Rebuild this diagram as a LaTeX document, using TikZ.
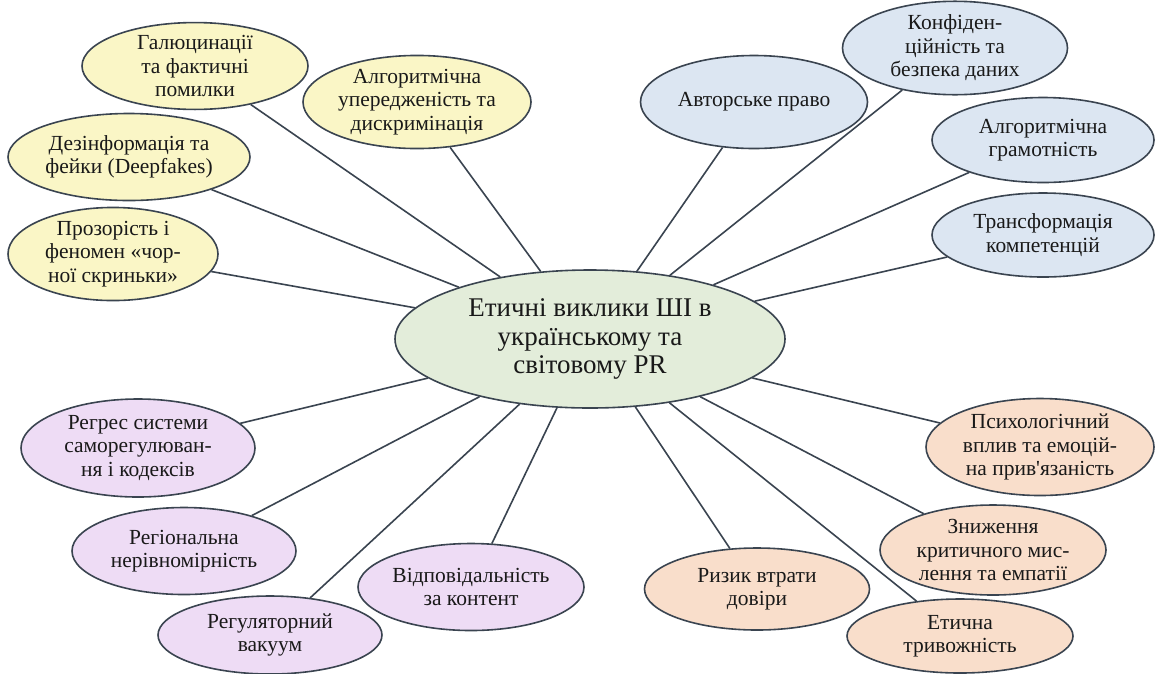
\documentclass[tikz,border=0pt]{standalone}
\usepackage{fontspec}
\setmainfont{Liberation Serif}[Ligatures=TeXOff]
\usetikzlibrary{shapes.geometric}
\definecolor{edgecol}{HTML}{3A4450}
\definecolor{yel}{HTML}{FAF6C6}
\definecolor{blu}{HTML}{DCE6F2}
\definecolor{grn}{HTML}{E3EDDA}
\definecolor{pur}{HTML}{EEDCF5}
\definecolor{ora}{HTML}{F9DECB}
\tikzset{
  bub/.style={ellipse, draw=edgecol, line width=1.6pt, inner sep=0pt, align=center,
    font=\fontsize{21.5}{23.5}\selectfont, text=black!90},
  hub/.style={bub, fill=grn, font=\fontsize{27}{28.5}\selectfont},
  conn/.style={draw=edgecol, line width=1.6pt},
}
\begin{document}
\begin{tikzpicture}[x=1pt,y=-1pt]
\useasboundingbox[fill=white] (0,0) rectangle (1155,673);
\node[hub, minimum width=390pt, minimum height=138pt] (c) at (590,339) {Етичні виклики ШІ в\\українському та\\світовому PR};
% yellow
\node[bub, fill=yel, minimum width=226pt, minimum height=78pt] (g1) at (195,66) {Галюцинації\\та фактичні\\помилки};
\node[bub, fill=yel, minimum width=228pt, minimum height=93pt] (g2) at (417,102) {Алгоритмічна\\упередженість та\\дискримінація};
\node[bub, fill=yel, minimum width=242pt, minimum height=87pt] (g3) at (129,157) {Дезінформація та\\фейки (Deepfakes)};
\node[bub, fill=yel, minimum width=210pt, minimum height=92pt] (g4) at (113,254) {Прозорість і\\феномен «чор-\\ної скриньки»};
% blue
\node[bub, fill=blu, minimum width=227pt, minimum height=93pt] (b1) at (754,102) {Авторське право};
\node[bub, fill=blu, minimum width=225pt, minimum height=80pt] (b2) at (955,48) {Конфіден-\\ційність та\\безпека даних};
\node[bub, fill=blu, minimum width=222pt, minimum height=85pt] (b3) at (1043,140) {Алгоритмічна\\грамотність};
\node[bub, fill=blu, minimum width=222pt, minimum height=84pt] (b4) at (1043,235) {Трансформація\\компетенцій};
% purple
\node[bub, fill=pur, minimum width=234pt, minimum height=98pt] (p1) at (138,448) {Регрес системи\\саморегулюван-\\ня і кодексів};
\node[bub, fill=pur, minimum width=224pt, minimum height=87pt] (p2) at (184,551) {Регіональна\\нерівномірність};
\node[bub, fill=pur, minimum width=224pt, minimum height=78pt] (p3) at (270,635) {Регуляторний\\вакуум};
\node[bub, fill=pur, minimum width=226pt, minimum height=87pt] (p4) at (471,587) {Відповідальність\\за контент};
% orange
\node[bub, fill=ora, minimum width=228pt, minimum height=97pt] (o1) at (1040,447) {Психологічний\\вплив та емоцій-\\на прив'язаність};
\node[bub, fill=ora, minimum width=226pt, minimum height=90pt] (o2) at (993,550) {Зниження\\критичного мис-\\лення та емпатії};
\node[bub, fill=ora, minimum width=225pt, minimum height=82pt] (o3) at (757,589) {Ризик втрати\\довіри};
\node[bub, fill=ora, minimum width=226pt, minimum height=74pt] (o4) at (960,636) {Етична\\тривожність};
\foreach \n in {g1,g2,g3,g4,b1,b2,b3,b4,p1,p2,p3,p4,o1,o2,o3,o4}
  \draw[conn] (c) -- (\n);
\end{tikzpicture}
\end{document}
